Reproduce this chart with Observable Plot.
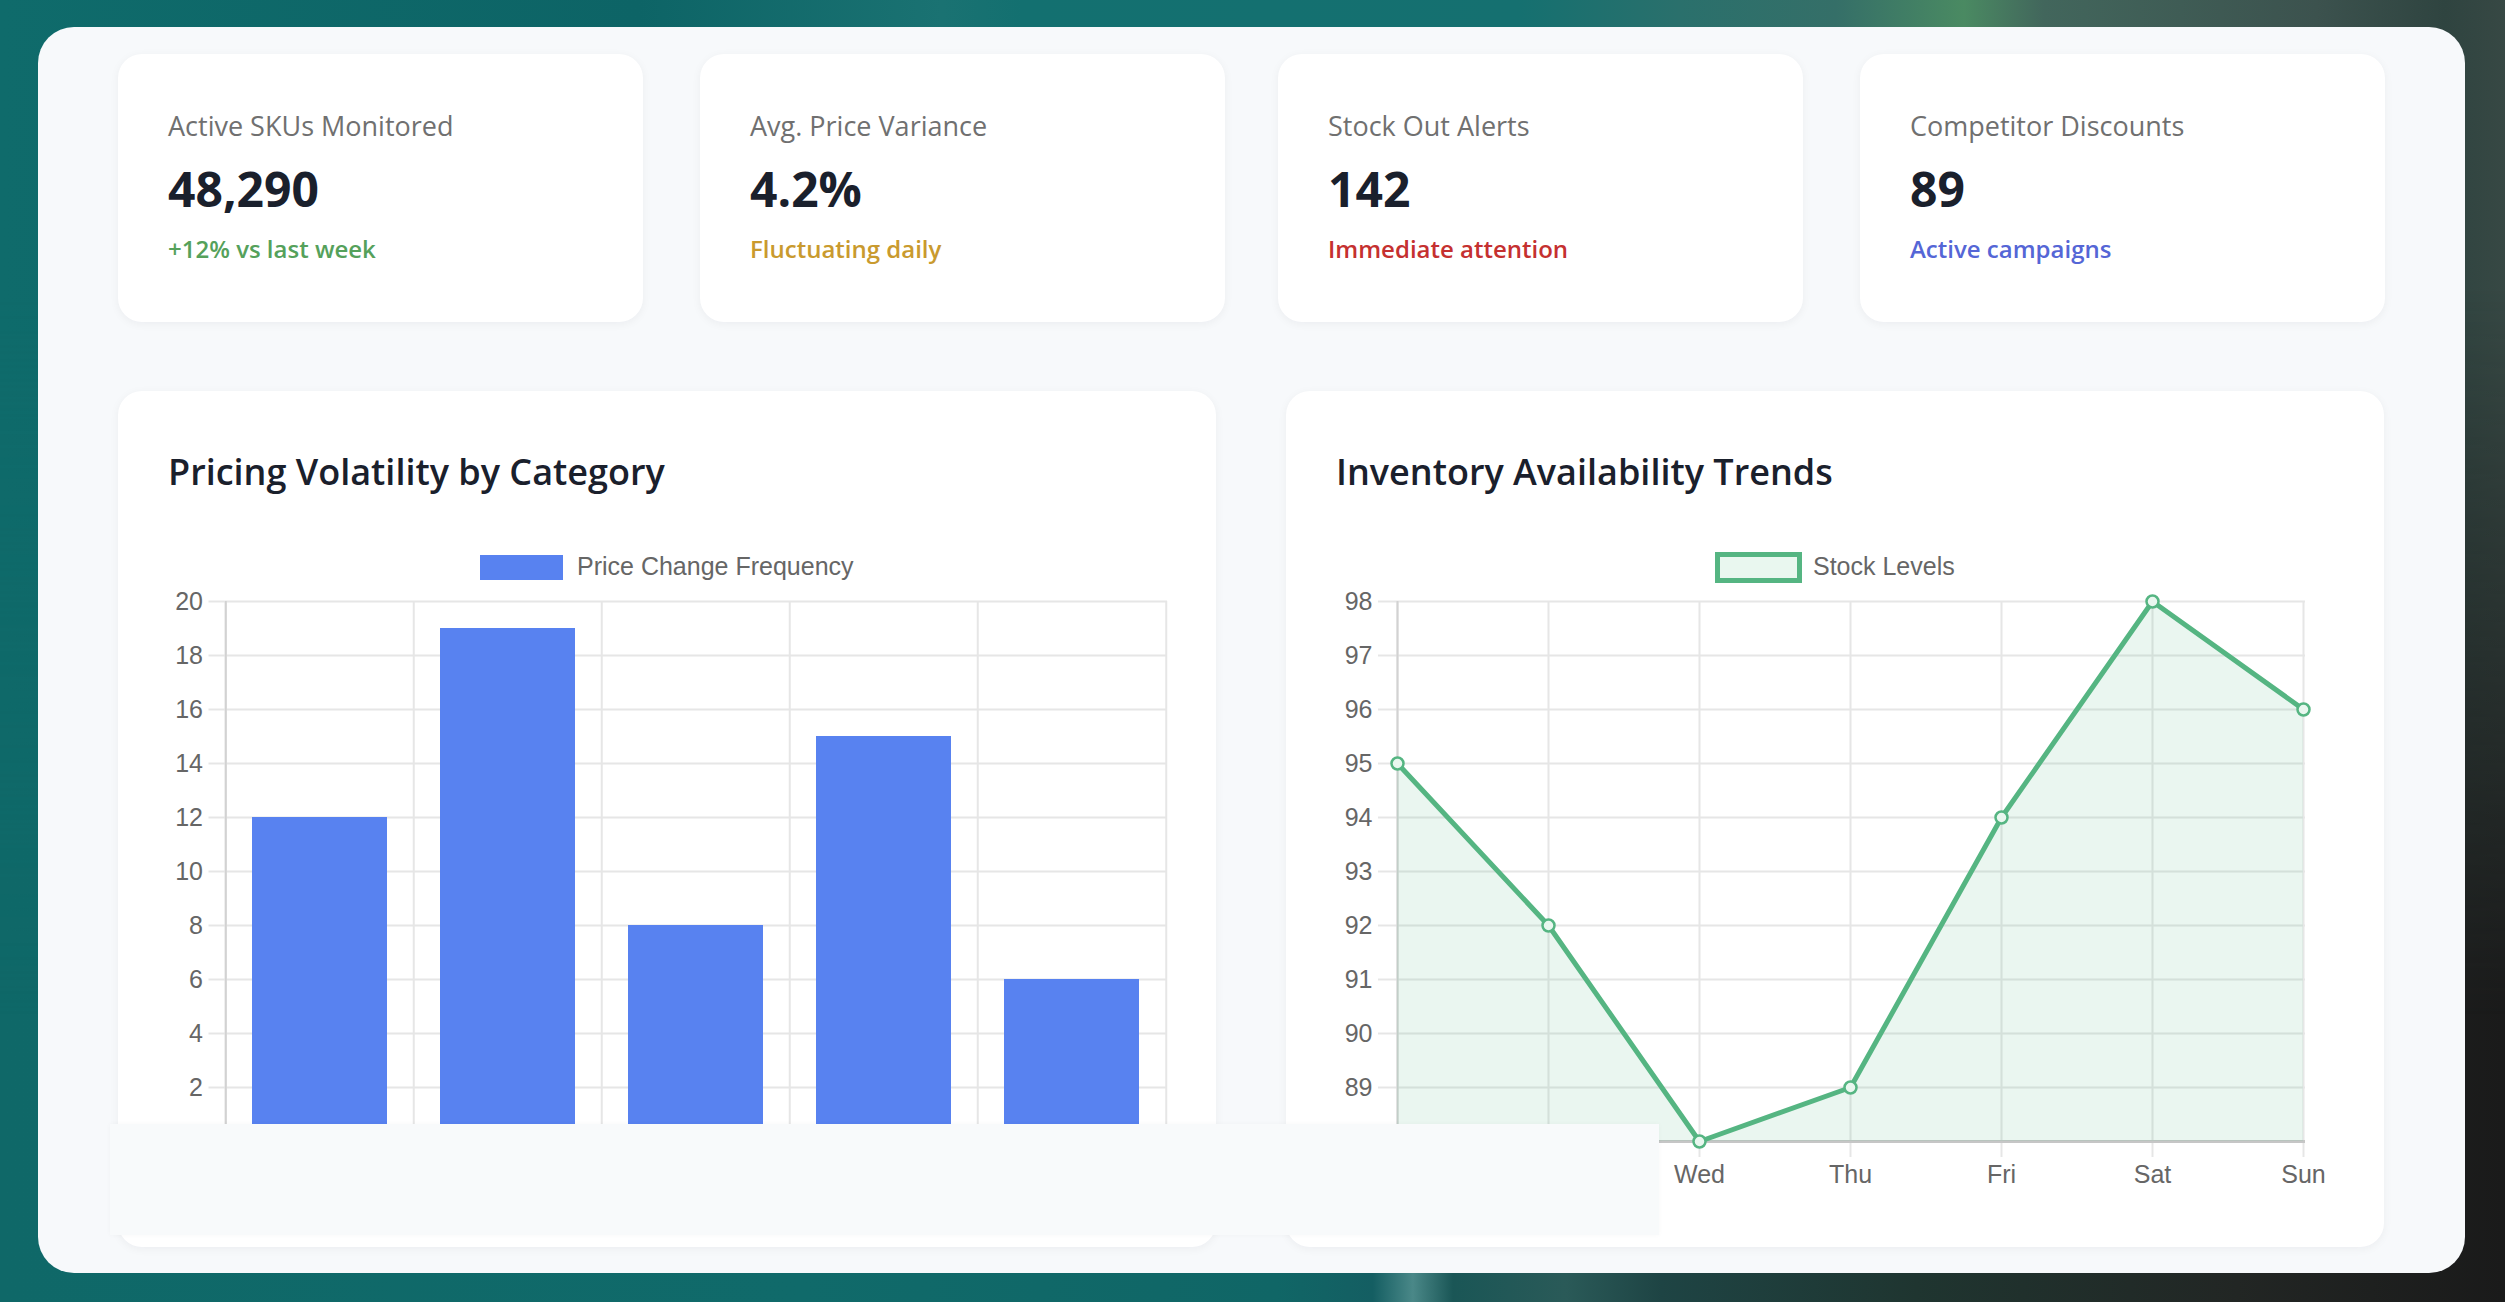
<!DOCTYPE html>
<html>
<head>
<meta charset="utf-8">
<title>Pricing &amp; Inventory Dashboard</title>
<script src="https://cdn.jsdelivr.net/npm/d3@7"></script>
<script src="https://cdn.jsdelivr.net/npm/@observablehq/plot@0.6"></script>
<style>
  html, body { margin: 0; padding: 0; }
  body {
    width: 2505px; height: 1302px; position: relative; overflow: hidden;
    font-family: "Open Sans", "Noto Sans", sans-serif;
    background: linear-gradient(to right,
      #0f6868 0%, #106a6a 32%, #106666 51%, #145e62 54.8%, #4a8888 56.4%,
      #1a5656 58%, #2a5a58 62.5%, #1e4444 66.3%, #1f3530 76.5%, #222624 89.3%, #1a1a1a 100%);
  }
  #sky {
    position: absolute; left: 0; top: 0; width: 2505px; height: 1302px;
    background: linear-gradient(to right,
      #0f6b6b 0%, #0d6466 25.5%, #1a7272 37.6%, #137070 40.8%, #157070 60.6%,
      #2a706c 67%, #356f68 73.3%, #4a8a62 78.4%, #42665c 81.6%, #3c524e 92.5%,
      #2f4440 97.6%, #374844 100%);
    -webkit-mask-image: linear-gradient(to bottom, #000 0%, #000 22%, transparent 78%);
    mask-image: linear-gradient(to bottom, #000 0%, #000 22%, transparent 78%);
  }
  .panel {
    position: absolute; left: 38px; top: 27px; width: 2427px; height: 1246px;
    border-radius: 36px; background: #f7f9fb;
  }
  .card {
    position: absolute; background: #ffffff; border-radius: 24px;
    box-shadow: 0 2px 10px rgba(15, 23, 42, 0.05);
  }
  .txt { position: absolute; line-height: 1; white-space: nowrap; }
  .kpi-label { font-size: 27px; color: #707070; font-weight: 400; }
  .kpi-value { font-size: 48px; color: #1a202c; font-weight: 700; }
  .kpi-note  { font-size: 24px; font-weight: 600; }
  .chart-title { font-size: 36px; color: #1a202c; font-weight: 600; }
  .legend-text { font-family: "Liberation Sans", Arial, sans-serif; font-size: 25px; color: #666666; }
  .plot-wrap { position: absolute; z-index: 1; }
  .cover {
    position: absolute; left: 110px; top: 1124px; width: 1549px; height: 111px;
    background: #f8fafb; z-index: 2;
    box-shadow: 0 0 5px rgba(15, 23, 42, 0.03);
  }
</style>
</head>
<body>
<div id="sky"></div>
<div class="panel"></div>
<script>
// ---- KPI summary cards ----
const kpiLabels = ["Active SKUs Monitored", "Avg. Price Variance", "Stock Out Alerts", "Competitor Discounts"];
const kpiValues = ["48,290", "4.2%", "142", "89"];
const kpiNotes = ["+12% vs last week", "Fluctuating daily", "Immediate attention", "Active campaigns"];
const kpiNoteColors = ["#55a15b", "#c99a2e", "#c53030", "#5566d6"];

// ---- Pricing volatility (bar chart) ----
const categories = ["Electronics", "Apparel", "Home & Kitchen", "Beauty", "Sports"];
const priceChangeFrequency = [12, 19, 8, 15, 6];
const frequencyTicks = [0, 2, 4, 6, 8, 10, 12, 14, 16, 18, 20];

// ---- Inventory availability (line chart) ----
const days = ["Mon", "Tue", "Wed", "Thu", "Fri", "Sat", "Sun"];
const stockLevels = [95, 92, 88, 89, 94, 98, 96];
const stockTicks = [88, 89, 90, 91, 92, 93, 94, 95, 96, 97, 98];

const barColor = "#5882f0";
const lineColor = "#55b582";
const gridColor = "#e6e6e6";

function el(tag, cls, css, text) {
  const e = document.createElement(tag);
  if (cls) e.className = cls;
  Object.assign(e.style, css || {});
  if (text != null) e.textContent = text;
  document.body.appendChild(e);
  return e;
}

// KPI cards
const kpiLeft = [118, 700, 1278, 1860];
kpiLabels.forEach((label, i) => {
  const x = kpiLeft[i];
  el("div", "card", {left: x + "px", top: "54px", width: "525px", height: "268px"});
  el("div", "txt kpi-label", {left: x + 50 + "px", top: "112px"}, label);
  el("div", "txt kpi-value", {left: x + 50 + "px", top: "165px"}, kpiValues[i]);
  el("div", "txt kpi-note", {left: x + 50 + "px", top: "237px", color: kpiNoteColors[i]}, kpiNotes[i]);
});

// Chart cards and titles
const chartLeft = [118, 1286];
const chartTitles = ["Pricing Volatility by Category", "Inventory Availability Trends"];
chartLeft.forEach((x, i) => {
  el("div", "card", {left: x + "px", top: "391px", width: "1098px", height: "856px"});
  el("div", "txt chart-title", {left: x + 50 + "px", top: "454px"}, chartTitles[i]);
});

// Legends
el("div", "", {position: "absolute", left: "480px", top: "555px", width: "83px", height: "25px", background: barColor});
el("div", "txt legend-text", {left: "577px", top: "554px"}, "Price Change Frequency");
el("div", "", {position: "absolute", left: "1715px", top: "552px", width: "77px", height: "21px",
  border: "5px solid " + lineColor, background: "#e9f7ef"});
el("div", "txt legend-text", {left: "1813px", top: "554px"}, "Stock Levels");

const plotStyle = {
  fontFamily: "'Liberation Sans', Arial, sans-serif",
  fontSize: "25px",
  color: "#666666",
  background: "transparent",
  overflow: "visible"
};

const W = 1098, H = 650;

// Bar chart
{
  const m = {top: 31, right: 49, bottom: 79, left: 106.5};
  const step = (W - m.left - m.right) / categories.length;
  const rows = categories.map((c, i) => ({category: c, value: priceChangeFrequency[i]}));
  const chart = Plot.plot({
    width: W, height: H,
    marginTop: m.top, marginRight: m.right, marginBottom: m.bottom, marginLeft: m.left,
    style: plotStyle,
    x: {type: "band", domain: categories, paddingInner: 0.28, paddingOuter: 0.14, axis: null},
    y: {domain: [0, 20], axis: null},
    marks: [
      Plot.gridY(frequencyTicks, {stroke: gridColor, strokeOpacity: 1, strokeWidth: 2}),
      Plot.ruleX(categories, {dx: -step / 2, stroke: gridColor, strokeWidth: 2}),
      Plot.ruleX([categories[categories.length - 1]], {dx: step / 2, stroke: gridColor, strokeWidth: 2}),
      Plot.axisY(frequencyTicks, {tickSize: 16, tickPadding: 6, stroke: gridColor, strokeWidth: 2,
        tickFormat: d => String(d), label: null}),
      Plot.axisX(categories, {tickSize: 0, tickPadding: 24, label: null}),
      Plot.ruleX([categories[0]], {dx: -step / 2, stroke: "#d2d2d2", strokeWidth: 2}),
      Plot.barY(rows, {x: "category", y: "value", fill: barColor}),
      Plot.ruleY([0], {stroke: "#c8c8c8", strokeWidth: 2})
    ]
  });
  const wrap = el("div", "plot-wrap", {left: "118px", top: "570px", width: W + "px", height: H + "px"});
  wrap.appendChild(chart);
}

// Line chart
{
  const m = {top: 31, right: 79, bottom: 79, left: 108};
  const rows = days.map((d, i) => ({day: d, value: stockLevels[i]}));
  const chart = Plot.plot({
    width: W, height: H,
    marginTop: m.top, marginRight: m.right, marginBottom: m.bottom, marginLeft: m.left,
    style: plotStyle,
    x: {type: "point", domain: days, padding: 0, axis: null},
    y: {domain: [88, 98], axis: null},
    marks: [
      Plot.gridY(stockTicks, {stroke: gridColor, strokeOpacity: 1, strokeWidth: 2}),
      Plot.gridX(days, {stroke: gridColor, strokeOpacity: 1, strokeWidth: 2}),
      Plot.axisY(stockTicks, {tickSize: 16, tickPadding: 6, stroke: gridColor, strokeWidth: 2,
        tickFormat: d => String(d), label: null}),
      Plot.axisX(days, {tickSize: 16, tickPadding: 8, stroke: gridColor, strokeWidth: 2, label: null}),
      Plot.ruleX([days[0]], {stroke: "#d2d2d2", strokeWidth: 2}),
      Plot.ruleY([88], {stroke: "#c6c6c6", strokeWidth: 3}),
      Plot.areaY(rows, {x: "day", y1: 88, y2: "value", fill: lineColor, fillOpacity: 0.12}),
      Plot.lineY(rows, {x: "day", y: "value", stroke: lineColor, strokeWidth: 5, strokeLinejoin: "miter"}),
      Plot.dot(rows, {x: "day", y: "value", r: 6, stroke: lineColor, strokeWidth: 2.5, fill: "#e9f7ef"})
    ]
  });
  const wrap = el("div", "plot-wrap", {left: "1286px", top: "570px", width: W + "px", height: H + "px"});
  wrap.appendChild(chart);
}

// Light strip laid over the lower edge of both chart cards
el("div", "cover", {});
</script>
</body>
</html>
